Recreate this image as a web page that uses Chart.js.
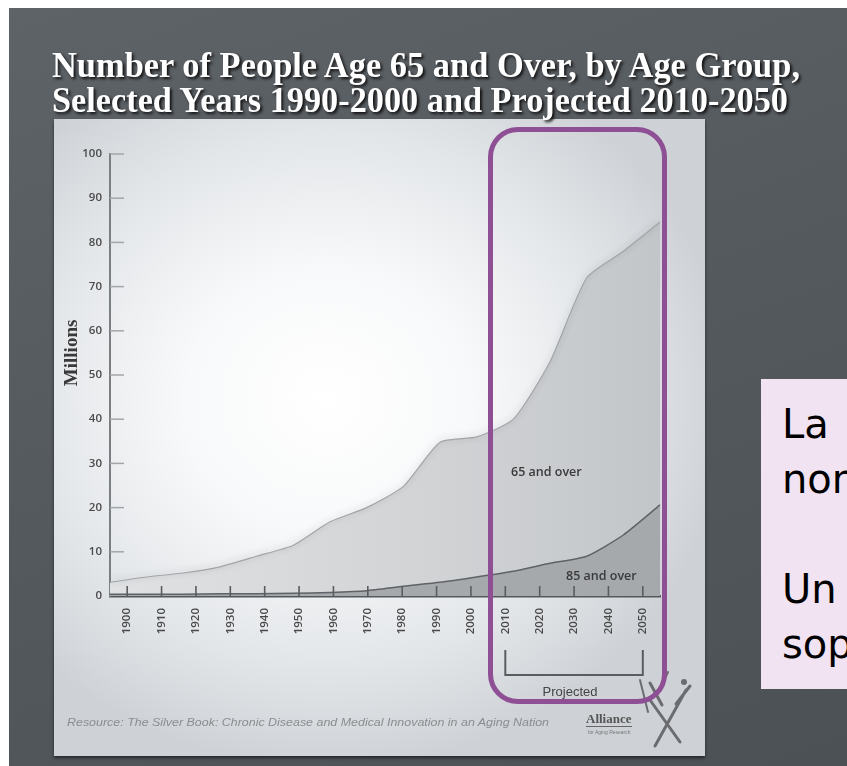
<!DOCTYPE html>
<html><head><meta charset="utf-8">
<script src="https://cdn.jsdelivr.net/npm/chart.js@4.4.1/dist/chart.umd.min.js"></script>
<style>
html,body{margin:0;padding:0;width:847px;height:766px;overflow:hidden;background:#fff;}
#slide{position:absolute;left:9px;top:8px;width:838px;height:758px;
 background:linear-gradient(160deg,#5e6368 0%,#555a5f 45%,#4c5156 100%);}
#panel{position:absolute;left:54px;top:119px;width:651px;height:637px;
 background:radial-gradient(ellipse 62% 58% at 42% 44%,#ffffff 0%,#f8f9fa 35%,#e3e6e9 72%,#ced2d6 100%);
 box-shadow:0 2px 3px rgba(0,0,0,.55);}
#c{position:absolute;left:0;top:0;}
#title{position:absolute;left:52px;top:48px;font-family:"Liberation Serif",serif;font-weight:bold;font-size:36px;line-height:35px;color:#fff;text-shadow:2px 2px 3px #111;white-space:nowrap;}
#title div{transform-origin:0 0;}
#purple{position:absolute;left:487.5px;top:127px;width:179px;height:577px;border:5px solid #8e4f94;border-radius:30px;box-sizing:border-box;}
#pink{position:absolute;left:761px;top:379px;width:200px;height:310px;background:#f2e3f2;box-sizing:border-box;padding:17.7px 0 0 21px;font-family:"DejaVu Sans",sans-serif;font-size:40px;line-height:55px;color:#000;white-space:nowrap;}
#source{position:absolute;left:67px;top:716px;font-family:"Liberation Sans",sans-serif;font-style:italic;font-size:10.5px;color:#8a8d90;white-space:nowrap;transform-origin:0 0;}
#proj{position:absolute;left:540px;top:684px;width:60px;text-align:center;font-family:"Liberation Sans",sans-serif;font-size:13px;color:#444;}
#alli{position:absolute;left:586px;top:711px;font-family:"Liberation Serif",serif;font-weight:bold;font-size:13px;color:#555;border-bottom:1px solid #666;line-height:15px;}
#alli2{position:absolute;left:588px;top:729px;font-family:"Liberation Sans",sans-serif;font-size:5px;color:#777;}
</style></head>
<body>
<div id="slide"></div>
<div id="panel"></div>
<canvas id="c" width="847" height="766"></canvas>
<div id="title"><div id="t1">Number of People Age 65 and Over, by Age Group,</div><div id="t2">Selected Years 1990-2000 and Projected 2010-2050</div></div>
<div id="purple"></div>
<div id="proj">Projected</div>
<div id="source">Resource: The Silver Book: Chronic Disease and Medical Innovation in an Aging Nation</div>
<div id="alli">Alliance</div>
<div id="alli2">for Aging Research</div>
<div id="pink">La<br>nom<br>&nbsp;<br>Un<br>sop</div>
<script>
const years = ['1900','1910','1920','1930','1940','1950','1960','1970','1980','1990','2000','2010','2020','2030','2040','2050'];
const age65 = [3.1, 4.3, 5.2, 6.6, 9.0, 11.5, 16.8, 20.0, 24.8, 34.8, 36.0, 40.0, 53.0, 72.0, 78.0, 84.6];
const age85 = [0.4, 0.4, 0.4, 0.5, 0.5, 0.6, 0.8, 1.2, 2.2, 3.1, 4.3, 5.6, 7.4, 9.0, 13.8, 20.6];
const yTicks = [0,10,20,30,40,50,60,70,80,90,100];

function fitWidth(el, w){ const r = el.getBoundingClientRect().width; el.style.transform = 'scaleX(' + (w / r) + ')'; }
fitWidth(document.getElementById('t1'), 748);
fitWidth(document.getElementById('t2'), 745);
fitWidth(document.getElementById('source'), 482);

const decor = {
  id:'decor',
  beforeDatasetDraw(chart, args){
    if (args.index === 1){ const c = chart.ctx; c.save(); c.shadowColor='rgba(0,0,0,0.28)'; c.shadowBlur=7; c.shadowOffsetY=-1; }
  },
  afterDatasetDraw(chart, args){
    if (args.index === 1){ chart.ctx.restore(); }
  },
  afterDraw(chart){
    const c = chart.ctx, xs = chart.scales.x, xd = chart.scales.xd, ys = chart.scales.y, a = chart.chartArea;
    c.save();
    // inward y ticks
    c.strokeStyle = '#a3a6a9'; c.lineWidth = 1.5;
    yTicks.slice(1).forEach(v => { const y = ys.getPixelForValue(v); c.beginPath(); c.moveTo(a.left, y); c.lineTo(a.left + 14, y); c.stroke(); });
    // inward x ticks
    c.strokeStyle = '#5a5c5f'; c.lineWidth = 1.6;
    years.forEach((yr, i) => { const x = xs.getPixelForTick(i); c.beginPath(); c.moveTo(x, a.bottom); c.lineTo(x, a.bottom - 10); c.stroke(); });
    // series labels
    c.fillStyle = '#3a3a3a'; c.font = '600 12.5px "Open Sans", sans-serif'; c.textAlign = 'center'; c.textBaseline = 'middle';
    c.fillText('65 and over', xd.getPixelForValue(11.9), ys.getPixelForValue(28));
    c.fillText('85 and over', xd.getPixelForValue(13.4), ys.getPixelForValue(4.5));
    // Millions
    c.save(); c.translate(72, ys.getPixelForValue(55)); c.rotate(-Math.PI/2);
    c.font = 'bold 19px "Liberation Serif", serif'; c.fillStyle = '#3a3a3a'; c.fillText('Millions', 0, 0); c.restore();
    // projected bracket
    const x1 = xs.getPixelForTick(11), x2 = xs.getPixelForTick(15);
    c.strokeStyle = '#5a5c5f'; c.lineWidth = 2;
    c.beginPath(); c.moveTo(x1, 650); c.lineTo(x1, 675); c.lineTo(x2, 675); c.lineTo(x2, 650); c.stroke();
    // logo figure
    c.strokeStyle = '#6a6c6f'; c.lineWidth = 3; c.lineCap = 'round';
    c.beginPath(); c.moveTo(650, 700); c.lineTo(680, 742); c.moveTo(686, 690); c.lineTo(655, 746);
    c.moveTo(662, 705); c.lineTo(650, 683); c.moveTo(676, 704); c.lineTo(690, 686); c.stroke();
    c.lineWidth = 2; c.beginPath(); c.moveTo(648, 712); c.lineTo(640, 680); c.moveTo(660, 690); c.lineTo(668, 672); c.stroke();
    c.beginPath(); c.arc(684, 682, 3, 0, Math.PI*2); c.fillStyle = '#6a6c6f'; c.fill();
    c.restore();
  }
};

const tickFont = {family:'"Open Sans", sans-serif', size:11.5, weight:'600'};
new Chart(document.getElementById('c'), {
  type:'line',
  data:{ labels: years, datasets:[
    { label:'85 and over', data: age85, xAxisID:'xd', yAxisID:'y', fill:'origin',
      backgroundColor:'#a6a9ac', borderColor:'#5f6266', borderWidth:1.5, pointRadius:0, tension:0.2 },
    { label:'65 and over', data: age65, xAxisID:'xd', yAxisID:'y', fill:'origin',
      backgroundColor:(ctx)=>{ const ch = ctx.chart, a = ch.chartArea; if(!a) return '#d0d2d4';
        const g = ch.ctx.createLinearGradient(a.left,0,a.right,0);
        g.addColorStop(0,'#dfe1e3'); g.addColorStop(0.55,'#d2d4d6'); g.addColorStop(1,'#c3c6c9'); return g; },
      borderColor:'#a2a5a8', borderWidth:1.2, pointRadius:0, tension:0.2 }
  ]},
  options:{
    animation:false, responsive:false, devicePixelRatio:1,
    layout:{ padding:{ left:0, top:154, right:187, bottom:0 } },
    plugins:{ legend:{display:false}, tooltip:{enabled:false} },
    scales:{
      x:{ type:'category', position:'bottom', offset:true,
          grid:{ display:false, drawTicks:false },
          border:{ display:true, color:'#55585b', width:2.5 },
          ticks:{ minRotation:90, maxRotation:90, autoSkip:false, padding:12, color:'#4a4a4a', font:tickFont },
          afterFit(s){ s.height = 170; } },
      xd:{ type:'category', display:false, offset:false },
      y:{ min:0, max:100, position:'left',
          ticks:{ stepSize:10, padding:8, color:'#4a4a4a', font:tickFont },
          grid:{ display:false, drawTicks:false },
          border:{ display:true, color:'#7c7f82', width:2 },
          afterFit(s){ s.width = 110; } }
    }
  },
  plugins:[decor]
});
</script>
</body></html>
